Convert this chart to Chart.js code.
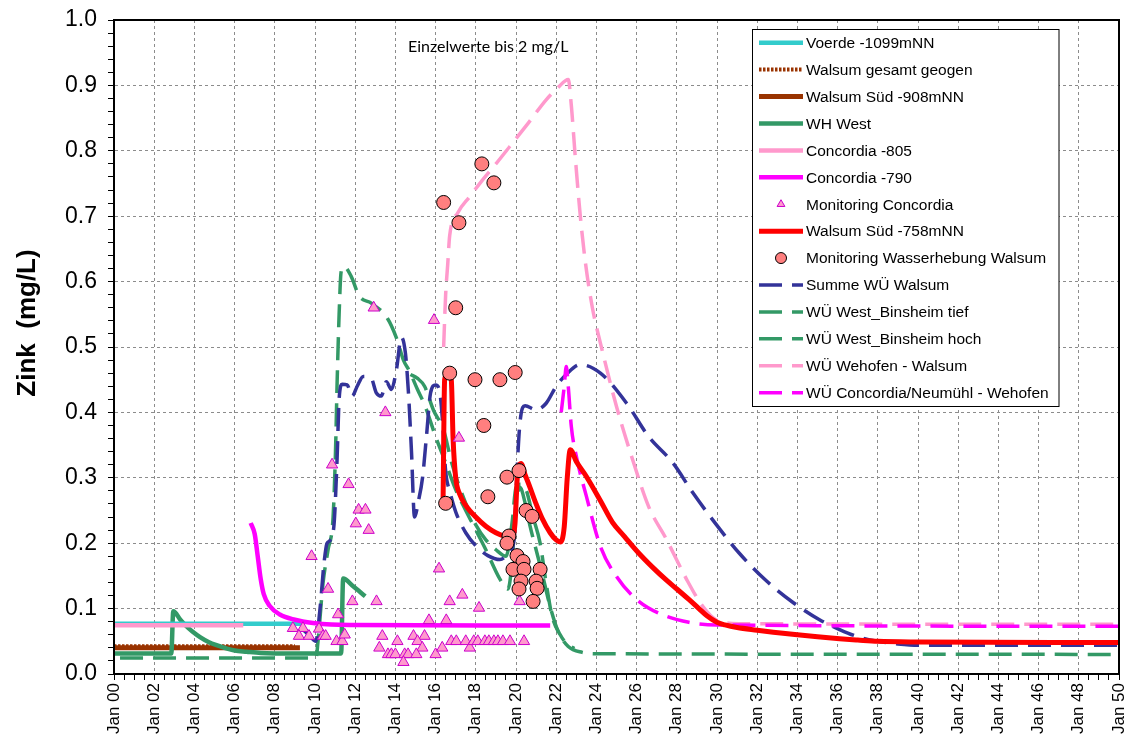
<!DOCTYPE html>
<html>
<head>
<meta charset="utf-8">
<script src="https://cdn.jsdelivr.net/npm/chart.js@4.4.1/dist/chart.umd.min.js"></script>
<style>
  html, body { margin: 0; padding: 0; background: #fff; }
  #chart { display: block; }
</style>
</head>
<body>
<canvas id="chart" width="1130" height="742"></canvas>
<script>
// Zink (mg/L), x = Jahre ab Jan 2000

const voerde1099 = [[0, 0.077], [9.35, 0.077]];
const walsumGeogen = [[0, 0.0425], [9.0, 0.0425]];
const walsumSued908 = [[0, 0.040], [9.25, 0.040]];
const whWest = [[0, 0.0315], [2.85, 0.0315], [2.95, 0.096], [3.3, 0.083], [3.6, 0.073], [3.9, 0.065], [4.3, 0.056],
  [4.7, 0.049], [5.1, 0.044], [5.5, 0.040], [6.0, 0.036], [6.6, 0.034], [7.3, 0.032], [8.0, 0.0315], [11.3, 0.0315],
  [11.4, 0.146], [11.9, 0.134], [12.5, 0.119]];
const concordia805 = [[0, 0.0745], [6.43, 0.0745]];
const concordia790 = [[6.8, 0.231], [7.0, 0.214], [7.15, 0.18], [7.3, 0.145], [7.45, 0.122], [7.75, 0.104], [8.25, 0.091],
  [9.0, 0.083], [9.9, 0.078], [10.8, 0.0755], [12, 0.075], [21.7, 0.074]];
const monitoringConcordia = [[9.83, 0.18], [10.65, 0.13], [11.15, 0.091], [11.86, 0.111], [13.06, 0.111], [16.17, 0.161],
  [16.7, 0.111], [17.33, 0.121], [18.16, 0.101], [20.18, 0.111], [15.67, 0.082], [16.53, 0.082], [8.9, 0.07], [9.4, 0.07],
  [9.2, 0.058], [9.7, 0.058], [10.2, 0.069], [10.4, 0.058], [10.53, 0.058], [11.07, 0.05], [11.36, 0.05], [11.48, 0.06],
  [13.35, 0.058], [13.2, 0.04], [14.1, 0.05], [14.9, 0.058], [15.45, 0.058], [15.1, 0.05], [15.34, 0.04], [13.63, 0.03],
  [13.8, 0.03], [14.0, 0.03], [14.46, 0.03], [14.63, 0.03], [15.04, 0.03], [14.4, 0.018], [16.0, 0.03], [16.33, 0.04],
  [16.78, 0.05], [17.03, 0.05], [17.5, 0.05], [17.7, 0.04], [17.9, 0.05], [18.1, 0.05], [18.45, 0.05], [18.65, 0.05],
  [18.9, 0.05], [19.1, 0.05], [19.35, 0.05], [19.7, 0.05], [20.4, 0.05], [12.92, 0.56], [15.92, 0.541], [13.5, 0.4],
  [10.85, 0.32], [11.67, 0.29], [12.17, 0.251], [12.51, 0.251], [12.03, 0.23], [12.67, 0.22], [17.16, 0.361]];
const walsumSued758 = [[16.37, 0.262], [16.45, 0.45], [16.6, 0.46], [16.78, 0.45], [16.87, 0.36], [17.0, 0.3], [17.2, 0.275],
  [17.5, 0.258], [18.0, 0.24], [18.5, 0.226], [19.0, 0.216], [19.5, 0.21], [19.8, 0.208], [19.95, 0.23], [20.1, 0.315],
  [20.25, 0.322], [20.45, 0.305], [20.7, 0.285], [21.0, 0.26], [21.3, 0.238], [21.7, 0.216], [22.0, 0.205], [22.2, 0.202],
  [22.4, 0.225], [22.55, 0.3], [22.7, 0.343], [23.0, 0.325], [23.5, 0.302], [24.2, 0.265], [24.8, 0.232], [25.4, 0.21],
  [26.1, 0.185], [26.8, 0.163], [27.5, 0.143], [28.0, 0.13], [28.6, 0.114], [29.1, 0.1], [29.5, 0.089], [30.0, 0.079],
  [30.4, 0.075], [31.0, 0.071], [32.0, 0.067], [32.8, 0.064], [34.0, 0.06], [35.0, 0.057], [36.1, 0.054], [37.0, 0.052],
  [38.0, 0.05], [40.0, 0.049], [50.0, 0.048]];
const monitoringWalsum = [[16.4, 0.721], [17.16, 0.69], [18.3, 0.78], [18.9, 0.751], [17.0, 0.56], [16.7, 0.46], [17.96, 0.45],
  [19.2, 0.45], [19.96, 0.461], [18.4, 0.38], [19.55, 0.301], [20.15, 0.311], [18.6, 0.271], [16.5, 0.261], [20.5, 0.25],
  [20.8, 0.241], [19.65, 0.211], [19.55, 0.2], [20.05, 0.181], [20.35, 0.172], [19.85, 0.16], [20.4, 0.16], [21.2, 0.16],
  [20.25, 0.142], [20.15, 0.13], [21.0, 0.142], [21.05, 0.131], [20.85, 0.111]];
const summeWuWalsum = [[9.4, 0.068], [9.75, 0.058], [10.04, 0.05], [10.25, 0.1], [10.45, 0.17], [10.6, 0.2], [10.75, 0.204],
  [10.95, 0.23], [11.1, 0.33], [11.2, 0.42], [11.35, 0.443], [11.6, 0.442], [11.85, 0.425], [12.1, 0.44], [12.4, 0.455],
  [12.8, 0.452], [13.05, 0.43], [13.3, 0.425], [13.55, 0.447], [13.8, 0.435], [14.05, 0.465], [14.3, 0.515], [14.5, 0.49],
  [14.65, 0.43], [14.8, 0.34], [14.95, 0.24], [15.15, 0.265], [15.35, 0.3], [15.55, 0.365], [15.75, 0.43], [16.0, 0.442],
  [16.2, 0.432], [16.35, 0.385], [16.5, 0.31], [16.7, 0.28], [17.0, 0.248], [17.5, 0.216], [18.0, 0.196], [18.6, 0.181],
  [19.2, 0.175], [19.65, 0.185], [19.9, 0.205], [20.05, 0.31], [20.2, 0.385], [20.45, 0.41], [21.0, 0.404], [21.5, 0.414],
  [22.0, 0.44], [22.5, 0.458], [23.2, 0.473], [24.2, 0.46], [25.5, 0.414], [26.6, 0.363], [27.8, 0.323], [28.8, 0.277],
  [29.9, 0.231], [31.1, 0.185], [32.4, 0.144], [33.8, 0.109], [35.1, 0.083], [36.1, 0.068], [37.0, 0.057], [38.0, 0.05],
  [39.0, 0.046], [40.0, 0.044], [50.0, 0.044]];
const wuWestTief = [[0.3, 0.0245], [10.05, 0.0245], [10.15, 0.05], [10.4, 0.139], [10.65, 0.19], [10.9, 0.24], [11.02, 0.34],
  [11.1, 0.445], [11.2, 0.55], [11.3, 0.615], [11.45, 0.623], [11.8, 0.608], [12.2, 0.578], [12.8, 0.567], [13.6, 0.544],
  [14.05, 0.514], [14.4, 0.48], [14.7, 0.463], [15.1, 0.435], [15.5, 0.408], [16.0, 0.363], [16.5, 0.323], [17.0, 0.282],
  [17.5, 0.25], [17.9, 0.226], [18.5, 0.19], [19.2, 0.145], [19.6, 0.13], [19.8, 0.17], [20.0, 0.26], [20.2, 0.285],
  [20.45, 0.262], [20.7, 0.226], [21.0, 0.19], [21.3, 0.154], [21.7, 0.103], [22.1, 0.065], [22.6, 0.042], [23.3, 0.033],
  [24.0, 0.031], [50.0, 0.03]];
const wuWestHoch = [[14.75, 0.458], [15.1, 0.452], [15.45, 0.44], [15.9, 0.403], [16.4, 0.373], [16.8, 0.323], [17.5, 0.261],
  [18.0, 0.228], [18.5, 0.205], [19.0, 0.19], [19.5, 0.18], [19.8, 0.23], [20.0, 0.285], [20.25, 0.29], [20.5, 0.282],
  [20.85, 0.24], [21.2, 0.2], [21.5, 0.139], [21.8, 0.088], [22.2, 0.06], [22.5, 0.047], [22.9, 0.039]];
const wuWehofen = [[16.4, 0.5], [16.5, 0.58], [16.6, 0.625], [16.7, 0.67], [17.1, 0.705], [17.7, 0.73], [18.35, 0.756],
  [19.0, 0.78], [19.7, 0.807], [20.6, 0.842], [21.5, 0.878], [22.1, 0.897], [22.6, 0.909], [22.75, 0.87], [22.95, 0.79],
  [23.2, 0.7], [23.45, 0.63], [23.8, 0.56], [24.2, 0.506], [25.0, 0.409], [25.8, 0.328], [26.6, 0.256], [27.5, 0.205],
  [28.5, 0.144], [29.3, 0.103], [29.95, 0.083], [31.1, 0.077], [50.0, 0.076]];
const wuConcordiaWehofen = [[22.25, 0.4], [22.4, 0.44], [22.5, 0.47], [22.6, 0.44], [22.75, 0.379], [23.0, 0.333],
  [23.5, 0.272], [24.2, 0.195], [25.0, 0.149], [26.0, 0.114], [27.1, 0.093], [28.6, 0.079], [30.0, 0.075], [50.0, 0.073]];

const LONG_DASH = [23, 10];
const FONT = '"Liberation Sans", Arial, sans-serif';

const toXY = pts => pts.map(p => ({ x: p[0], y: p[1] }));

function lineSet(label, pts, color, width, order, dash) {
    return {
        label, data: toXY(pts), borderColor: color, backgroundColor: color, borderWidth: width,
        borderDash: dash || [], pointRadius: 0, fill: false, order,
        cubicInterpolationMode: 'monotone', borderCapStyle: 'butt', borderJoinStyle: 'round'
    };
}

function markerSet(label, pts, style, radius, fill, stroke, order, legendRadius) {
    return {
        label, data: toXY(pts), showLine: false, pointStyle: style, pointRadius: radius,
        pointBackgroundColor: fill, pointBorderColor: stroke, pointBorderWidth: 1,
        backgroundColor: fill, borderColor: stroke, order, legendRadius
    };
}

const datasets = [
    lineSet('Voerde -1099mNN', voerde1099, '#33CCCC', 4.5, 5),
    lineSet('Walsum gesamt geogen', walsumGeogen, '#993300', 4, 7, [2.5, 1.5]),
    lineSet('Walsum Süd -908mNN', walsumSued908, '#993300', 5, 8),
    lineSet('WH West', whWest, '#339966', 4.5, 6),
    lineSet('Concordia -805', concordia805, '#FF99CC', 4.5, 4),
    lineSet('Concordia -790', concordia790, '#FF00FF', 4.5, 3),
    markerSet('Monitoring Concordia', monitoringConcordia, 'triangle', 6.5, '#FF99CC', '#CC00CC', 1, 4.5),
    lineSet('Walsum Süd -758mNN', walsumSued758, '#FF0000', 5, 2),
    markerSet('Monitoring Wasserhebung Walsum', monitoringWalsum, 'circle', 7, '#FF7F7F', '#000000', 0, 5.5),
    lineSet('Summe WÜ Walsum', summeWuWalsum, '#333399', 3.5, 11, LONG_DASH),
    lineSet('WÜ West_Binsheim tief', wuWestTief, '#339966', 3.5, 13, LONG_DASH),
    lineSet('WÜ West_Binsheim hoch', wuWestHoch, '#339966', 3.5, 12, LONG_DASH),
    lineSet('WÜ Wehofen - Walsum', wuWehofen, '#FF99CC', 3.5, 10, LONG_DASH),
    lineSet('WÜ Concordia/Neumühl - Wehofen', wuConcordiaWehofen, '#FF00FF', 3.5, 9, LONG_DASH)
];

const isMajorY = v => Math.abs(v * 10 - Math.round(v * 10)) < 1e-6;
const isMajorX = v => Math.abs(v - Math.round(v)) < 1e-6 && Math.round(v) % 2 === 0;

// Achsen auf feste Maße bringen, damit die Zeichenfläche genau sitzt
function fixScale(size) {
    return s => {
        if (s.isHorizontal()) s.height = size; else s.width = size;
        s.paddingLeft = 0; s.paddingRight = 0; s.paddingTop = 0; s.paddingBottom = 0;
    };
}

// Rahmen, Achsentitel, Hinweis und Legende
const extras = {
    id: 'extras',
    afterDraw(chart) {
        const { ctx, chartArea: a } = chart;
        ctx.save();
        ctx.strokeStyle = '#000';
        ctx.lineWidth = 2;
        ctx.strokeRect(a.left, a.top, a.right - a.left, a.bottom - a.top);

        ctx.fillStyle = '#000';
        ctx.font = 'bold 26px ' + FONT;
        ctx.textAlign = 'center';
        ctx.textBaseline = 'middle';
        ctx.translate(28, 323);
        ctx.rotate(-Math.PI / 2);
        ctx.fillText('Zink  (mg/L)', 0, 0);
        ctx.setTransform(1, 0, 0, 1, 0, 0);

        ctx.font = '16px Lato, "Open Sans", sans-serif';
        ctx.textAlign = 'left';
        ctx.fillText('Einzelwerte bis 2 mg/L', 408, 47);

        // Legende
        ctx.fillStyle = '#fff';
        ctx.fillRect(752.5, 29.5, 306.5, 377);
        ctx.lineWidth = 1;
        ctx.strokeStyle = '#000';
        ctx.strokeRect(752.5, 29.5, 306.5, 377);
        chart.data.datasets.forEach((ds, i) => {
            const y = 42.7 + i * 26.92;
            if (ds.showLine === false) {
                ctx.setLineDash([]);
                ctx.fillStyle = ds.pointBackgroundColor;
                ctx.strokeStyle = ds.pointBorderColor;
                ctx.lineWidth = 1;
                Chart.helpers.drawPoint(ctx, { pointStyle: ds.pointStyle, radius: ds.legendRadius, rotation: 0, borderWidth: 1 }, 781, y);
            } else {
                ctx.setLineDash(ds.borderDash);
                ctx.lineWidth = ds.borderWidth;
                ctx.strokeStyle = ds.borderColor;
                ctx.beginPath();
                ctx.moveTo(759, y);
                ctx.lineTo(803, y);
                ctx.stroke();
            }
            ctx.setLineDash([]);
            ctx.fillStyle = '#000';
            ctx.font = '15.5px ' + FONT;
            ctx.textAlign = 'left';
            ctx.textBaseline = 'middle';
            ctx.fillText(ds.label, 806, y + 1);
        });
        ctx.restore();
    }
};

new Chart(document.getElementById('chart').getContext('2d'), {
    type: 'line',
    data: { datasets },
    plugins: [extras],
    options: {
        responsive: false,
        animation: false,
        layout: { padding: { left: 0, top: 20, right: 11, bottom: 0 } },
        plugins: { legend: { display: false }, tooltip: { enabled: false } },
        scales: {
            x: {
                type: 'linear', min: 0, max: 50,
                afterFit: fixScale(68),
                border: { color: '#000', width: 2, dash: [3, 3] },
                grid: {
                    color: c => (c.tick && isMajorX(c.tick.value) ? '#8c8c8c' : 'transparent'),
                    tickColor: '#000', tickLength: 6, lineWidth: 1
                },
                ticks: {
                    stepSize: 0.5, autoSkip: false, maxTicksLimit: 200, minRotation: 90, maxRotation: 90,
                    padding: 3, color: '#000', font: { family: FONT, size: 17 },
                    callback: v => (isMajorX(v) ? 'Jan ' + String(Math.round(v)).padStart(2, '0') : '')
                }
            },
            y: {
                type: 'linear', min: 0, max: 1,
                afterFit: fixScale(114),
                border: { color: '#000', width: 2, dash: [3, 3] },
                grid: {
                    color: c => (c.tick && isMajorY(c.tick.value) ? '#8c8c8c' : 'transparent'),
                    tickColor: '#000', tickLength: 6, lineWidth: 1
                },
                ticks: {
                    stepSize: 0.02, autoSkip: false, maxTicksLimit: 200, padding: 11, color: '#000',
                    font: { family: FONT, size: 23 },
                    callback: v => (isMajorY(v) ? (Math.round(v * 10) / 10).toFixed(1) : '')
                }
            }
        }
    }
});
</script>
</body>
</html>
